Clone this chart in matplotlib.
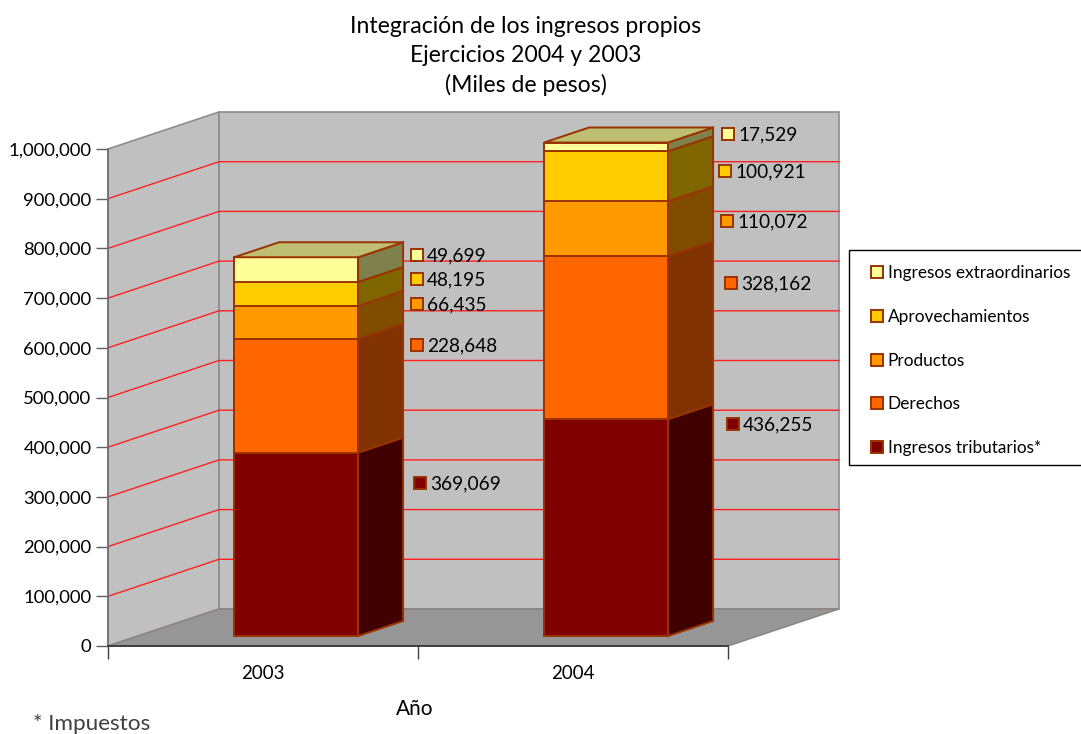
import matplotlib
matplotlib.use("Agg")
import matplotlib.pyplot as plt
from matplotlib.patches import Polygon, Patch, Rectangle
from matplotlib.colors import to_rgb

plt.rcParams['font.family'] = ['Lato', 'DejaVu Sans']

years = ['2003', '2004']
series = ['Ingresos tributarios*', 'Derechos', 'Productos', 'Aprovechamientos', 'Ingresos extraordinarios']
tributarios = [369069, 436255]
derechos = [228648, 328162]
productos = [66435, 110072]
aprovechamientos = [48195, 100921]
extraordinarios = [49699, 17529]
values = [tributarios, derechos, productos, aprovechamientos, extraordinarios]
colors = ['#800000', '#FF6600', '#FF9900', '#FFCC00', '#FFFF99']
edge = '#993300'
yticks = list(range(0, 1000001, 100000))

W, H = 1081, 734
fig = plt.figure(figsize=(W / 100, H / 100), dpi=100, facecolor='white')
ax = fig.add_axes([108 / W, 1 - 646 / H, 620 / W, 497 / H])
ax.set_xlim(0, 2)
ax.set_ylim(0, 1000000)
ax.patch.set_visible(False)

UX = 620 / 2            # px per category
UY = 497 / 1000000      # px per value
DX = 111 / UX           # full depth in x units
DY = 37 / UY            # full depth in value units

def P(x, v, d):
    return (x + d * DX, v + d * DY)

def poly(pts, fc, ec, lw=1.0, z=1):
    ax.add_patch(Polygon(pts, closed=True, fc=fc, ec=ec, lw=lw, zorder=z, clip_on=False, joinstyle='miter'))

def shade(c, f):
    return tuple(f * a for a in to_rgb(c))

# walls and floor
wall = '#C0C0C0'
poly([P(0, 0, 0), P(0, 0, 1), P(0, 1000000, 1), P(0, 1000000, 0)], wall, '#8C8C8C', 1.2, 1)
poly([P(0, 0, 1), P(2, 0, 1), P(2, 1000000, 1), P(0, 1000000, 1)], wall, '#8C8C8C', 1.2, 1)
poly([P(0, 0, 0), P(2, 0, 0), P(2, 0, 1), P(0, 0, 1)], '#969696', '#8C8080', 1.0, 1)

for v in yticks[1:-1]:
    a, b, c = P(0, v, 0), P(0, v, 1), P(2, v, 1)
    ax.plot([a[0], b[0], c[0]], [a[1], b[1], c[1]], color='#FF2020', lw=1.0, zorder=2,
            clip_on=False, solid_joinstyle='miter')

# stacked bars
d0, d1 = 10 / 37, 25 / 37
bar_left = 0.31
bar_w = 0.40
for i in range(len(years)):
    x0 = i + bar_left
    x1 = x0 + bar_w
    base = 0
    for k, vals in enumerate(values):
        top = base + vals[i]
        z = 3 + k * 0.01
        poly([P(x0, base, d0), P(x1, base, d0), P(x1, top, d0), P(x0, top, d0)], colors[k], edge, 1.4, z)
        poly([P(x1, base, d0), P(x1, base, d1), P(x1, top, d1), P(x1, top, d0)], shade(colors[k], 0.5), edge, 1.4, z)
        base = top
    poly([P(x0, base, d0), P(x1, base, d0), P(x1, base, d1), P(x0, base, d1)], shade(colors[-1], 0.75), edge, 1.4, 3.5)

# axes
for s in ['top', 'right']:
    ax.spines[s].set_visible(False)
ax.spines['left'].set_color('#707070')
ax.spines['bottom'].set_color('#303030')
for s in ['left', 'bottom']:
    ax.spines[s].set_linewidth(1.2)
    ax.spines[s].set_zorder(6)
ax.set_yticks(yticks)
ax.set_yticklabels([f'{v:,}' for v in yticks])
ax.set_xticks([0, 1, 2])
ax.set_xticklabels([])
ax.set_xticks([0.5, 1.5], minor=True)
ax.set_xticklabels(years, minor=True)
ax.tick_params(axis='y', length=9, width=1.0, color='#606060', labelsize=13.3, pad=3)
ax.tick_params(axis='x', which='major', length=9, width=1.0, color='#404040')
ax.tick_params(axis='x', which='minor', length=0, labelsize=13.5, pad=14)

def fx(px):
    return px / W

def fy(py):
    return 1 - py / H

# title and notes
fig.text(fx(526), fy(56), 'Integración de los ingresos propios\nEjercicios 2004 y 2003\n(Miles de pesos)',
         ha='center', va='center', fontsize=16.6, linespacing=1.46, color='black')
fig.text(fx(415), fy(709), 'Año', ha='center', va='center', fontsize=15, color='black')
fig.text(fx(33), fy(724), '* Impuestos', ha='left', va='center', fontsize=16.2, color='#404040')

# data labels (series order, per year)
label_px = [
    [(420, 483), (733, 424)],
    [(417, 345), (731, 283)],
    [(417, 304), (727, 221)],
    [(417, 279), (725, 171)],
    [(417, 255), (728, 134)],
]
for k, vals in enumerate(values):
    for i in range(len(years)):
        cx, cy = label_px[k][i]
        fig.add_artist(Rectangle((fx(cx - 6), fy(cy + 6)), 12 / W, 12 / H, transform=fig.transFigure,
                                 fc=colors[k], ec=edge, lw=1.4, zorder=8))
        fig.text(fx(cx + 10), fy(cy - 1), f'{vals[i]:,}', ha='left', va='center_baseline', fontsize=13.7, color='black', zorder=8)

# legend: box drawn separately because it runs to the image edge
fig.add_artist(Rectangle((fx(849), fy(465)), 240 / W, 215 / H, transform=fig.transFigure,
                         fc='white', ec='black', lw=1.0, zorder=7))
handles = [Patch(fc=colors[k], ec=edge, lw=1.4, label=series[k]) for k in range(len(series) - 1, -1, -1)]
leg = fig.legend(handles=handles, loc='upper left', bbox_to_anchor=(fx(854.5), fy(249)), bbox_transform=fig.transFigure,
                 borderaxespad=0, fontsize=12.45, frameon=False,
                 handlelength=0.7, handleheight=0.7, handletextpad=0.28, labelspacing=1.6,
                 borderpad=0.95)
leg.set_zorder(9)

fig.savefig('out.png', dpi=100, facecolor='white')
